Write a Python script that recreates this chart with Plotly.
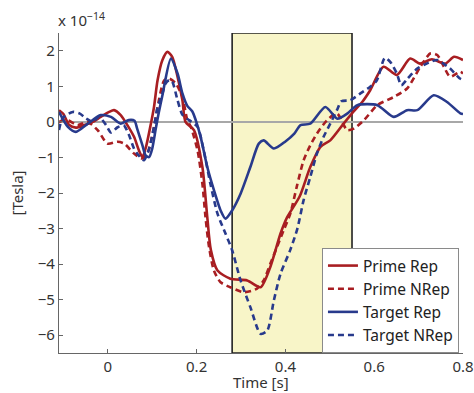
import plotly.graph_objects as go

# ---- data (values in units of 1e-14 Tesla) ----
t_prime_rep = [-0.11, -0.10, -0.087, -0.072, -0.053, -0.034, -0.016, 0.003, 0.014, 0.029, 0.044,
               0.059, 0.070, 0.078, 0.086, 0.097, 0.104, 0.112, 0.123, 0.134, 0.145, 0.157,
               0.168, 0.175, 0.194, 0.213, 0.224, 0.232, 0.247, 0.276, 0.314, 0.344, 0.366,
               0.389, 0.404, 0.432, 0.456, 0.479, 0.501, 0.531, 0.550, 0.573, 0.591, 0.621,
               0.651, 0.681, 0.703, 0.730, 0.760, 0.780, 0.800]
v_prime_rep = [0.33, 0.22, -0.09, -0.16, -0.09, 0.0, 0.14, 0.28, 0.33, 0.19, -0.09,
               -0.42, -0.80, -0.99, -0.70, -0.05, 0.42, 1.17, 1.74, 1.97, 1.83, 1.27,
               0.61, 0.0, -0.23, -1.27, -2.68, -3.60, -4.18, -4.41, -4.46, -4.65, -4.08,
               -3.14, -2.68, -2.10, -1.27, -0.70, -0.52, -0.05, 0.24, 0.56, 0.89, 1.55,
               1.32, 1.78, 1.64, 1.76, 1.64, 1.83, 1.74]

t_prime_nrep = [-0.11, -0.091, -0.068, -0.046, -0.023, -0.001, 0.022, 0.037, 0.059, 0.078, 0.089,
                0.104, 0.115, 0.127, 0.138, 0.153, 0.168, 0.179, 0.187, 0.202, 0.213, 0.220,
                0.228, 0.239, 0.254, 0.276, 0.306, 0.336, 0.351, 0.366, 0.381, 0.396, 0.411,
                0.426, 0.441, 0.456, 0.471, 0.494, 0.516, 0.539, 0.554, 0.577, 0.607, 0.644,
                0.674, 0.704, 0.727, 0.742, 0.757, 0.771, 0.794, 0.800]
v_prime_nrep = [0.0, 0.05, -0.09, 0.0, -0.23, -0.61, -0.56, -0.61, -0.89, -1.03, -0.89,
                -0.14, 0.61, 1.17, 1.22, 1.08, 0.70, 0.05, -0.14, -0.80, -1.74, -2.68,
                -3.52, -4.18, -4.51, -4.65, -4.79, -4.69, -4.46, -3.99, -3.52, -3.05, -2.58,
                -1.80, -1.08, -0.66, -0.33, 0.05, 0.24, -0.23, -0.19, 0.05, 0.47, 0.70,
                0.94, 1.55, 1.93, 1.88, 1.55, 1.27, 1.41, 1.36]

t_target_rep = [-0.11, -0.09, -0.072, -0.045, -0.016, 0.007, 0.029, 0.047, 0.060, 0.066, 0.078,
                0.085, 0.093, 0.100, 0.108, 0.115, 0.123, 0.142, 0.157, 0.168, 0.179, 0.190,
                0.198, 0.209, 0.224, 0.239, 0.254, 0.265, 0.280, 0.299, 0.321, 0.340, 0.351,
                0.374, 0.400, 0.420, 0.434, 0.456, 0.490, 0.517, 0.540, 0.562, 0.607, 0.644,
                0.674, 0.697, 0.734, 0.764, 0.794, 0.800]
v_target_rep = [0.28, -0.14, -0.28, -0.05, 0.19, 0.14, -0.05, 0.05, 0.03, -0.19, -0.66,
                -0.94, -0.99, -0.75, -0.19, 0.28, 0.75, 1.78, 1.36, 0.80, 0.45, 0.30,
                0.05, -0.42, -1.27, -1.92, -2.49, -2.72, -2.49, -2.02, -1.27, -0.61, -0.52,
                -0.75, -0.55, -0.33, -0.09, -0.05, 0.42, 0.09, 0.24, 0.47, 0.47, 0.14,
                0.33, 0.33, 0.75, 0.56, 0.24, 0.22]

t_target_nrep = [-0.11, -0.102, -0.079, -0.064, -0.049, -0.034, -0.020, -0.004, 0.007, 0.022, 0.036,
                 0.047, 0.059, 0.070, 0.081, 0.092, 0.104, 0.112, 0.123, 0.130, 0.138, 0.145,
                 0.157, 0.168, 0.183, 0.202, 0.216, 0.231, 0.247, 0.265, 0.280, 0.299, 0.321,
                 0.344, 0.359, 0.374, 0.389, 0.411, 0.427, 0.441, 0.456, 0.471, 0.486, 0.501,
                 0.516, 0.526, 0.546, 0.569, 0.591, 0.606, 0.624, 0.636, 0.651, 0.661, 0.674,
                 0.697, 0.718, 0.742, 0.756, 0.771, 0.793, 0.800]
v_target_nrep = [-0.23, 0.10, 0.28, 0.24, 0.10, 0.0, 0.14, -0.09, -0.30, -0.15, -0.10,
                 -0.35, -0.75, -0.95, -1.08, -0.80, -0.14, 0.42, 0.80, 1.08, 1.17, 1.13,
                 0.61, 0.20, 0.05, -0.14, -0.80, -1.74, -2.58, -3.14, -3.61, -4.46, -5.21,
                 -5.96, -5.87, -5.02, -4.27, -3.60, -3.00, -2.20, -1.55, -0.89, -0.42, -0.05,
                 0.33, 0.58, 0.61, 0.80, 0.99, 1.17, 1.80, 1.69, 1.36, 1.03, 1.20,
                 1.50, 1.64, 1.74, 1.64, 1.50, 1.22, 1.18]

series = [
    ("Prime Rep", t_prime_rep, v_prime_rep, "#a81e22", "solid"),
    ("Prime NRep", t_prime_nrep, v_prime_nrep, "#a81e22", "6px,4px"),
    ("Target Rep", t_target_rep, v_target_rep, "#283a8c", "solid"),
    ("Target NRep", t_target_nrep, v_target_nrep, "#283a8c", "6px,4px"),
]

window_start, window_end = 0.28, 0.55
x_range = [-0.11, 0.8]
y_range = [-6.5, 2.5]
x_ticks = [0, 0.2, 0.4, 0.6, 0.8]
y_ticks = [-6, -5, -4, -3, -2, -1, 0, 1, 2]

FONT = "Noto Sans"

fig = go.Figure()
for name, t, v, color, dash in series:
    fig.add_trace(go.Scatter(
        x=t, y=v, mode="lines", name=name,
        line=dict(color=color, width=2.6, dash=dash, shape="spline", smoothing=0.7),
    ))

fig.add_shape(type="rect", xref="x", yref="y",
              x0=window_start, x1=window_end, y0=y_range[0], y1=y_range[1],
              fillcolor="#f8f5c8", line=dict(color="#222222", width=1.6), layer="below")
fig.add_shape(type="line", xref="x", yref="y",
              x0=x_range[0], x1=x_range[1], y0=0, y1=0,
              line=dict(color="#a8a8a8", width=2), layer="below")

fig.add_annotation(xref="paper", yref="paper", x=0, y=1, xanchor="left", yanchor="bottom",
                   text="x 10<sup>\u221214</sup>", showarrow=False, yshift=1, xshift=-3,
                   font=dict(family=FONT, size=15, color="#333333"))
fig.add_annotation(xref="paper", yref="paper", x=0.5, y=0, xanchor="center", yanchor="top",
                   text="Time [s]", showarrow=False, yshift=-18, borderpad=0,
                   font=dict(family=FONT, size=15, color="#333333"))

fig.update_layout(
    width=474, height=393,
    margin=dict(l=59, r=11, t=33, b=40, autoexpand=False),
    paper_bgcolor="white", plot_bgcolor="white",
    font=dict(family=FONT, size=15, color="#333333"),
    showlegend=True,
    legend=dict(x=0.99, y=0, xanchor="right", yanchor="bottom",
                bgcolor="white", bordercolor="#8a8a8a", borderwidth=1,
                font=dict(family=FONT, size=15.5, color="#222222"),
                tracegroupgap=0, itemwidth=30),
    xaxis=dict(range=x_range, tickvals=x_ticks, ticktext=["0", "0.2", "0.4", "0.6", "0.8"],
               ticks="inside", ticklen=4, tickcolor="#666666", automargin=False,
               showline=True, linecolor="#666666", linewidth=1.2,
               showgrid=False, zeroline=False),
    yaxis=dict(range=y_range, tickvals=y_ticks,
               ticktext=["\u22126", "\u22125", "\u22124", "\u22123", "\u22122", "\u22121", "0", "1", "2"],
               ticks="inside", ticklen=4, tickcolor="#666666", automargin=False,
               showline=True, linecolor="#666666", linewidth=1.2,
               showgrid=False, zeroline=False,
               title=dict(text="[Tesla]", standoff=10, font=dict(size=15))),
)

fig.write_html("out.html")
